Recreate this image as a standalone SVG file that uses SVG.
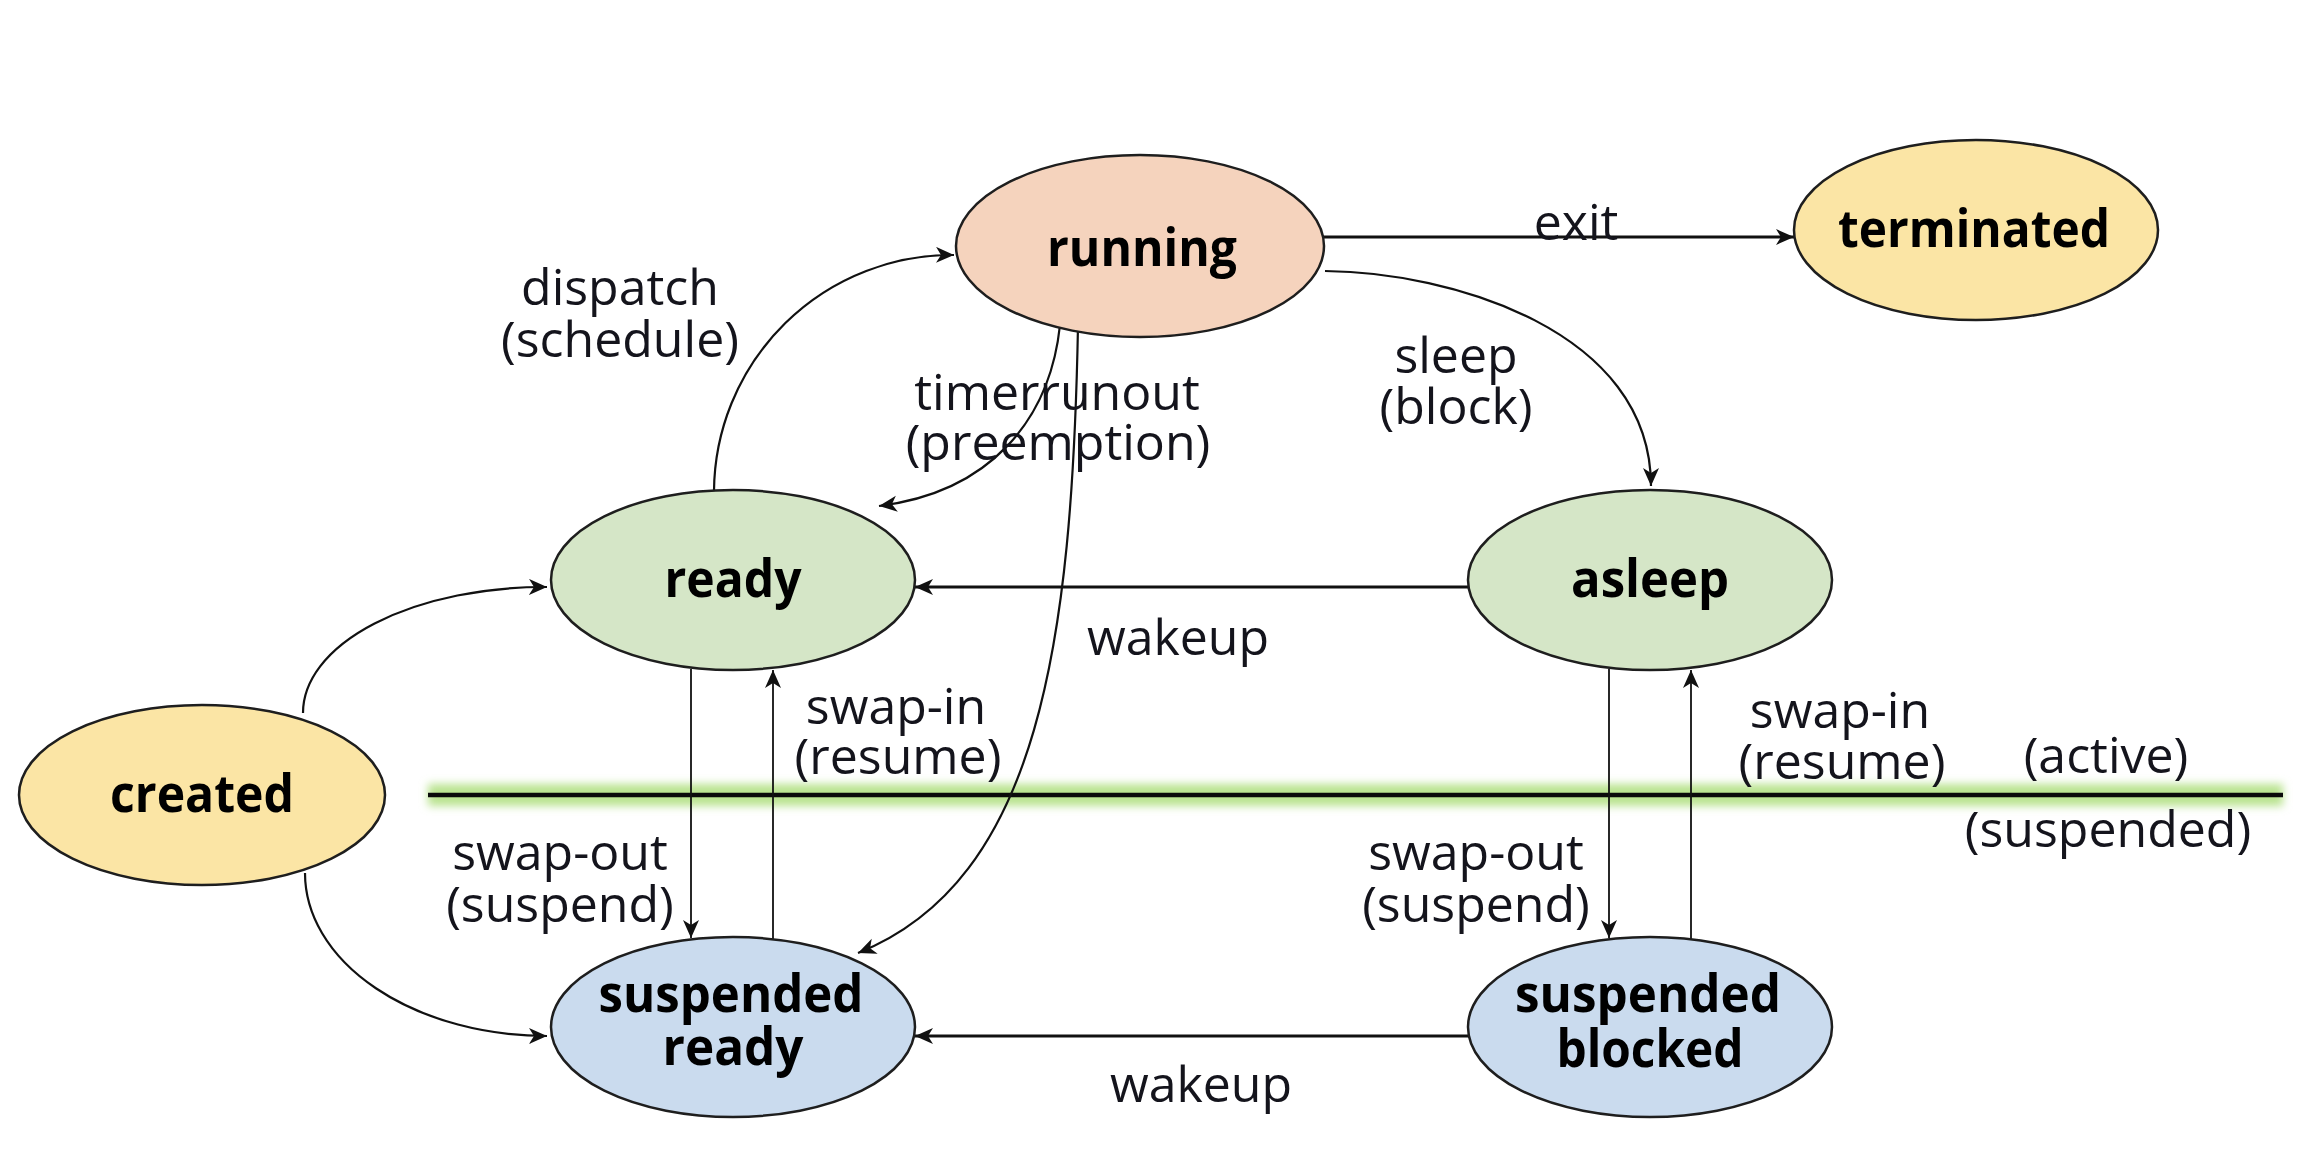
<svg xmlns="http://www.w3.org/2000/svg" width="2300" height="1170" viewBox="0 0 2300 1170">
<defs>
<marker id="arr" markerUnits="userSpaceOnUse" markerWidth="20" markerHeight="18" refX="18" refY="8" orient="auto">
<path d="M0,0 L18,8 L0,16 L5,8 z" fill="#111"/>
</marker>
<filter id="glow" filterUnits="userSpaceOnUse" x="400" y="760" width="1910" height="70">
<feGaussianBlur stdDeviation="4"/>
</filter>
</defs>
<style>
.node ellipse{stroke:#1e1e1e;stroke-width:2.5}
.nl{font-family:"Open Sans","Liberation Sans",sans-serif;font-weight:bold;font-size:52px;fill:#000;text-anchor:middle}
.lbl{font-family:"Open Sans","Liberation Sans",sans-serif;font-size:50px;fill:#14141c;text-anchor:middle}
.c{fill:none;stroke:#111;stroke-width:2.2;marker-end:url(#arr)}
.thick{stroke-width:3}
.thin{stroke-width:1.8}
</style>
<rect width="2300" height="1170" fill="#fff"/>

<g id="divider">
<rect x="428" y="784" width="1855" height="22" fill="#b9e38f" filter="url(#glow)"/>
<line x1="428" y1="795" x2="2283" y2="795" stroke="#0a0a0a" stroke-width="4.5"/>
</g>

<g id="connectors">
<path id="e-exit" class="c thick" d="M1323,237 L1794,237"/>
<path id="e-sleep" class="c" d="M1325,271 C1450,272 1651,330 1651,486"/>
<path id="e-dispatch" class="c" d="M714,491 A238,238 0 0 1 954,255"/>
<path id="e-timer" class="c" d="M1060,325 C1050,420 990,492 879,506"/>
<path id="e-run-sr" class="c" d="M1078,326 C1072,640 1040,880 858,953"/>
<path id="e-wake1" class="c thick" d="M1469,587 L915,587"/>
<path id="e-create-ready" class="c" d="M303,713 A242,126 0 0 1 547,587"/>
<path id="e-create-sr" class="c" d="M305,873 A242,163 0 0 0 547,1036"/>
<path id="e-swapout1" class="c thin" d="M691,669 L691,938"/>
<path id="e-swapin1" class="c thin" d="M773,939 L773,670"/>
<path id="e-swapout2" class="c thin" d="M1609,669 L1609,938"/>
<path id="e-swapin2" class="c thin" d="M1691,939 L1691,670"/>
<path id="e-wake2" class="c thick" d="M1469,1036 L915,1036"/>
</g>

<g id="labels">
<text class="lbl" x="1576" y="240">exit</text>
<text class="lbl" x="620" y="305">dispatch</text>
<text class="lbl" x="620" y="357">(schedule)</text>
<text class="lbl" x="1057" y="410">timerrunout</text>
<text class="lbl" x="1058" y="460">(preemption)</text>
<text class="lbl" x="1456" y="373">sleep</text>
<text class="lbl" x="1456" y="424">(block)</text>
<text class="lbl" x="1178" y="655">wakeup</text>
<text class="lbl" x="896" y="724">swap-in</text>
<text class="lbl" x="898" y="774">(resume)</text>
<text class="lbl" x="560" y="870">swap-out</text>
<text class="lbl" x="560" y="922">(suspend)</text>
<text class="lbl" x="1840" y="728">swap-in</text>
<text class="lbl" x="1842" y="779">(resume)</text>
<text class="lbl" x="2106" y="773">(active)</text>
<text class="lbl" x="2108" y="847">(suspended)</text>
<text class="lbl" x="1476" y="870">swap-out</text>
<text class="lbl" x="1476" y="922">(suspend)</text>
<text class="lbl" x="1201" y="1102">wakeup</text>
</g>

<g id="running" class="node">
<ellipse cx="1140" cy="246" rx="184" ry="91" fill="#F5D3BD"/>
<text class="nl" x="1142" y="266" textLength="190" lengthAdjust="spacingAndGlyphs">running</text>
</g>
<g id="terminated" class="node">
<ellipse cx="1976" cy="230" rx="182" ry="90" fill="#FBE5A5"/>
<text class="nl" x="1974" y="247" textLength="272" lengthAdjust="spacingAndGlyphs">terminated</text>
</g>
<g id="ready" class="node">
<ellipse cx="733" cy="580" rx="182" ry="90" fill="#D5E6C7"/>
<text class="nl" x="733" y="597" textLength="137" lengthAdjust="spacingAndGlyphs">ready</text>
</g>
<g id="asleep" class="node">
<ellipse cx="1650" cy="580" rx="182" ry="90" fill="#D5E6C7"/>
<text class="nl" x="1650" y="597" textLength="158" lengthAdjust="spacingAndGlyphs">asleep</text>
</g>
<g id="created" class="node">
<ellipse cx="202" cy="795" rx="183" ry="90" fill="#FBE5A5"/>
<text class="nl" x="202" y="812" textLength="184" lengthAdjust="spacingAndGlyphs">created</text>
</g>
<g id="suspended-ready" class="node">
<ellipse cx="733" cy="1027" rx="182" ry="90" fill="#CADBEE"/>
<text class="nl" x="731" y="1012" textLength="265" lengthAdjust="spacingAndGlyphs">suspended</text>
<text class="nl" x="733" y="1065" textLength="141" lengthAdjust="spacingAndGlyphs">ready</text>
</g>
<g id="suspended-blocked" class="node">
<ellipse cx="1650" cy="1027" rx="182" ry="90" fill="#CADBEE"/>
<text class="nl" x="1648" y="1012" textLength="266" lengthAdjust="spacingAndGlyphs">suspended</text>
<text class="nl" x="1650" y="1067" textLength="187" lengthAdjust="spacingAndGlyphs">blocked</text>
</g>
</svg>
